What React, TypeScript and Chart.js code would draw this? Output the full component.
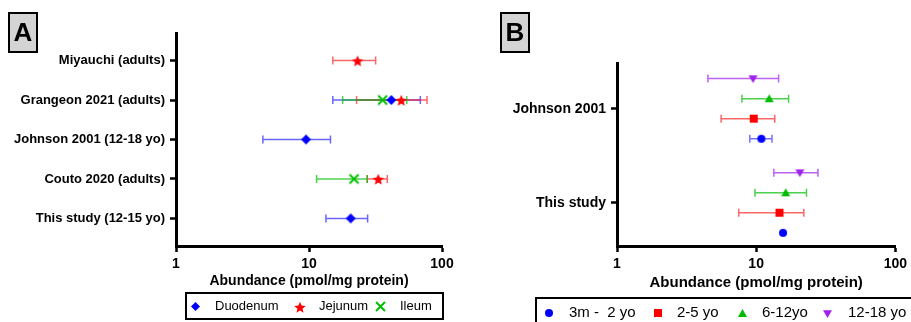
import React, { useEffect, useRef } from 'react';
import { Chart, registerables } from 'chart.js';

Chart.register(...registerables);

const FONT = '"Liberation Sans", Arial, Helvetica, sans-serif';

// ---------- Panel A data ----------
const studiesA = [
  'Miyauchi (adults)',
  'Grangeon 2021 (adults)',
  'Johnson 2001 (12-18 yo)',
  'Couto 2020 (adults)',
  'This study (12-15 yo)',
];
const tissuesA = ['Duodenum', 'Jejunum', 'Ileum'];
const duodenumMean = [null, 41.6, 9.5, null, 20.6];
const duodenumLo = [null, 15.1, 4.5, null, 13.4];
const duodenumHi = [null, 68.7, 14.5, null, 27.6];
const jejunumMean = [23.2, 49.4, null, 33.2, null];
const jejunumLo = [15.1, 22.8, null, 27.4, null];
const jejunumHi = [31.7, 77.1, null, 38.8, null];
const ileumMean = [null, 35.8, null, 21.8, null];
const ileumLo = [null, 17.9, null, 11.4, null];
const ileumHi = [null, 54.3, null, 27.4, null];

// ---------- Panel B data ----------
const studiesB = ['Johnson 2001', 'This study'];
const ageGroupsB = ['3m -  2 yo', '2-5 yo', '6-12yo', '12-18 yo'];
const dodgeB = [0.32, 0.106, -0.106, -0.32];
const infantMean = [10.9, 15.6];
const infantLo = [9.0, null];
const infantHi = [13.0, null];
const preschoolMean = [9.6, 14.7];
const preschoolLo = [5.6, 7.5];
const preschoolHi = [13.6, 22.0];
const childMean = [12.4, 16.3];
const childLo = [7.9, 9.8];
const childHi = [17.1, 23.0];
const adolescentMean = [9.5, 20.6];
const adolescentLo = [4.5, 13.4];
const adolescentHi = [14.5, 27.8];

const xTicks = [1, 10, 100];

// ---------- markers ----------
function makeMarker(shape: string, color: string, s: number): HTMLCanvasElement {
  const S = Math.ceil(s + 4);
  const c = document.createElement('canvas');
  c.width = S;
  c.height = S;
  const ctx = c.getContext('2d')!;
  const m = S / 2;
  const h = s / 2;
  ctx.fillStyle = color;
  ctx.strokeStyle = color;
  ctx.beginPath();
  if (shape === 'diamond') {
    ctx.moveTo(m, m - h);
    ctx.lineTo(m + h, m);
    ctx.lineTo(m, m + h);
    ctx.lineTo(m - h, m);
    ctx.closePath();
    ctx.fill();
  } else if (shape === 'star') {
    for (let i = 0; i < 10; i++) {
      const r = i % 2 === 0 ? h : h * 0.45;
      const a = -Math.PI / 2 + (i * Math.PI) / 5;
      ctx.lineTo(m + r * Math.cos(a), m + 0.8 + r * Math.sin(a));
    }
    ctx.closePath();
    ctx.fill();
  } else if (shape === 'cross') {
    ctx.lineWidth = 2;
    ctx.moveTo(m - h, m - h);
    ctx.lineTo(m + h, m + h);
    ctx.moveTo(m + h, m - h);
    ctx.lineTo(m - h, m + h);
    ctx.stroke();
  } else if (shape === 'circle') {
    ctx.arc(m, m, h, 0, Math.PI * 2);
    ctx.fill();
  } else if (shape === 'square') {
    ctx.rect(m - h, m - h, s, s);
    ctx.fill();
  } else if (shape === 'triUp') {
    ctx.moveTo(m, m - h);
    ctx.lineTo(m + h, m + h * 0.75);
    ctx.lineTo(m - h, m + h * 0.75);
    ctx.closePath();
    ctx.fill();
  } else if (shape === 'triDown') {
    ctx.moveTo(m, m + h);
    ctx.lineTo(m + h, m - h * 0.75);
    ctx.lineTo(m - h, m - h * 0.75);
    ctx.closePath();
    ctx.fill();
  }
  return c;
}

// ---------- plugins ----------
const errorBarPlugin = {
  id: 'errorBars',
  beforeDatasetsDraw(chart: any) {
    const ctx = chart.ctx;
    const xs = chart.scales.x;
    const ys = chart.scales.y;
    chart.data.datasets.forEach((ds: any) => {
      ds.data.forEach((p: any) => {
        if (p.lo == null || p.hi == null) return;
        const y = ys.getPixelForValue(p.y);
        const x1 = xs.getPixelForValue(p.lo);
        const x2 = xs.getPixelForValue(p.hi);
        ctx.save();
        ctx.strokeStyle = ds.errColor;
        ctx.lineWidth = 1.5;
        ctx.beginPath();
        ctx.moveTo(x1, y);
        ctx.lineTo(x2, y);
        ctx.moveTo(x1, y - 4);
        ctx.lineTo(x1, y + 4);
        ctx.moveTo(x2, y - 4);
        ctx.lineTo(x2, y + 4);
        ctx.stroke();
        ctx.restore();
      });
    });
  },
};

const decorPlugin = {
  id: 'decor',
  afterDraw(chart: any, _args: any, opts: any) {
    const ctx = chart.ctx;
    ctx.save();
    const [bx, by, bw, bh] = opts.letterBox;
    ctx.fillStyle = '#d4d4d4';
    ctx.fillRect(bx, by, bw, bh);
    ctx.strokeStyle = '#000';
    ctx.lineWidth = 2;
    ctx.strokeRect(bx, by, bw, bh);
    ctx.fillStyle = '#000';
    ctx.font = `bold 26px ${FONT}`;
    ctx.textAlign = 'center';
    ctx.textBaseline = 'middle';
    ctx.fillText(opts.letter, bx + bw / 2, by + bh / 2 + 1);

    const L = opts.legend;
    const [lx, ly, lw, lh] = L.box;
    ctx.lineWidth = 2;
    ctx.strokeRect(lx, ly, lw, lh);
    ctx.font = `${L.fontSize}px ${FONT}`;
    ctx.textAlign = 'left';
    ctx.textBaseline = 'middle';
    chart.data.datasets.forEach((ds: any, i: number) => {
      const [mx, tx] = L.items[i];
      const img = ds.legendMarker as HTMLCanvasElement;
      ctx.drawImage(img, Math.round(mx - img.width / 2), Math.round(L.y - img.height / 2));
      ctx.fillStyle = '#000';
      ctx.fillText(ds.label, tx, L.y);
    });
    ctx.restore();
  },
};

function build(mean: (number | null)[], lo: (number | null)[], hi: (number | null)[], offset: number) {
  const out: any[] = [];
  mean.forEach((v, i) => {
    if (v == null) return;
    out.push({ x: v, y: i + offset, lo: lo[i], hi: hi[i] });
  });
  return out;
}

function axisOptions(opts: {
  yLabels: string[];
  yMin: number;
  yMax: number;
  yWidth: number;
  yFont: number;
  xHeight: number;
  titleFont: number;
}) {
  return {
    x: {
      type: 'logarithmic',
      min: 1,
      max: 100,
      afterBuildTicks: (s: any) => {
        s.ticks = xTicks.map((v) => ({ value: v, major: false }));
      },
      afterFit: (s: any) => {
        s.height = opts.xHeight;
      },
      border: { display: true, color: '#000', width: 3 },
      grid: { drawOnChartArea: false, drawTicks: true, tickLength: 6, tickWidth: 2.5, tickColor: '#000' },
      ticks: {
        color: '#000',
        font: { family: FONT, size: 14, weight: 'bold' },
        padding: 4,
        maxRotation: 0,
        autoSkip: false,
        callback: (v: any) => String(v),
      },
      title: {
        display: true,
        text: 'Abundance (pmol/mg protein)',
        color: '#000',
        font: { family: FONT, size: opts.titleFont, weight: 'bold' },
        padding: 0,
      },
    },
    y: {
      type: 'linear',
      reverse: true,
      min: opts.yMin,
      max: opts.yMax,
      afterBuildTicks: (s: any) => {
        s.ticks = opts.yLabels.map((_, i) => ({ value: i }));
      },
      afterFit: (s: any) => {
        s.width = opts.yWidth;
      },
      border: { display: true, color: '#000', width: 3 },
      grid: { drawOnChartArea: false, drawTicks: true, tickLength: 6, tickWidth: 2.5, tickColor: '#000' },
      ticks: {
        color: '#000',
        font: { family: FONT, size: opts.yFont, weight: 'bold' },
        padding: 5,
        autoSkip: false,
        callback: (v: any) => opts.yLabels[Math.round(v)],
      },
    },
  };
}

function useChart(ref: React.RefObject<HTMLCanvasElement>, makeConfig: () => any) {
  useEffect(() => {
    if (!ref.current) return;
    const chart = new Chart(ref.current, makeConfig());
    return () => chart.destroy();
  }, []);
}

export default function App() {
  const refA = useRef<HTMLCanvasElement>(null);
  const refB = useRef<HTMLCanvasElement>(null);

  useChart(refA, () => {
    const mk = [
      { shape: 'diamond', color: '#0000ff', err: 'rgba(0,0,255,0.6)', s: 10, ls: 9 },
      { shape: 'star', color: '#ff0000', err: 'rgba(255,0,0,0.6)', s: 12, ls: 12 },
      { shape: 'cross', color: '#00c000', err: 'rgba(0,190,0,0.7)', s: 9, ls: 9 },
    ];
    const series = [
      build(duodenumMean, duodenumLo, duodenumHi, 0),
      build(jejunumMean, jejunumLo, jejunumHi, 0),
      build(ileumMean, ileumLo, ileumHi, 0),
    ];
    const datasets = tissuesA.map((label, i) => ({
      label,
      data: series[i],
      pointStyle: makeMarker(mk[i].shape, mk[i].color, mk[i].s),
      legendMarker: makeMarker(mk[i].shape, mk[i].color, mk[i].ls),
      errColor: mk[i].err,
      showLine: false,
      order: i === 2 ? 3 : i === 0 ? 2 : 1,
    }));
    return {
      type: 'scatter',
      data: { datasets },
      options: {
        animation: false,
        responsive: false,
        events: [],
        layout: { padding: { top: 33, right: 18, bottom: 32, left: 0 } },
        plugins: {
          legend: { display: false },
          tooltip: { enabled: false },
          decor: {
            letter: 'A',
            letterBox: [9, 13, 28, 39],
            legend: {
              box: [186, 293, 257, 26],
              fontSize: 13,
              y: 306.5,
              items: [
                [195, 215],
                [300, 319],
                [380, 400],
              ],
            },
          },
        },
        scales: axisOptions({
          yLabels: studiesA,
          yMin: -0.7,
          yMax: 4.7,
          yWidth: 176,
          yFont: 13,
          xHeight: 44,
          titleFont: 14,
        }),
      },
      plugins: [errorBarPlugin, decorPlugin],
    };
  });

  useChart(refB, () => {
    const mk = [
      { shape: 'circle', color: '#0000ff', err: 'rgba(0,0,255,0.55)', s: 8, ls: 8 },
      { shape: 'square', color: '#ff0000', err: 'rgba(255,0,0,0.6)', s: 8, ls: 8 },
      { shape: 'triUp', color: '#00bb00', err: 'rgba(0,190,0,0.7)', s: 9, ls: 9 },
      { shape: 'triDown', color: '#a020f0', err: 'rgba(160,32,240,0.7)', s: 9, ls: 9 },
    ];
    const series = [
      build(infantMean, infantLo, infantHi, dodgeB[0]),
      build(preschoolMean, preschoolLo, preschoolHi, dodgeB[1]),
      build(childMean, childLo, childHi, dodgeB[2]),
      build(adolescentMean, adolescentLo, adolescentHi, dodgeB[3]),
    ];
    const datasets = ageGroupsB.map((label, i) => ({
      label,
      data: series[i],
      pointStyle: makeMarker(mk[i].shape, mk[i].color, mk[i].s),
      legendMarker: makeMarker(mk[i].shape, mk[i].color, mk[i].ls),
      errColor: mk[i].err,
      showLine: false,
    }));
    return {
      type: 'scatter',
      data: { datasets },
      options: {
        animation: false,
        responsive: false,
        events: [],
        layout: { padding: { top: 63, right: 11, bottom: 30, left: 0 } },
        plugins: {
          legend: { display: false },
          tooltip: { enabled: false },
          decor: {
            letter: 'B',
            letterBox: [41, 13, 28, 39],
            legend: {
              box: [76, 298, 400, 40],
              fontSize: 15,
              y: 313,
              items: [
                [89, 109],
                [198, 217],
                [282, 302],
                [367, 388],
              ],
            },
          },
        },
        scales: axisOptions({
          yLabels: studiesB,
          yMin: -0.486,
          yMax: 1.46,
          yWidth: 157,
          yFont: 14,
          xHeight: 46,
          titleFont: 15,
        }),
      },
      plugins: [errorBarPlugin, decorPlugin],
    };
  });

  return (
    <div
      style={{
        position: 'fixed',
        left: 0,
        top: 0,
        width: 911,
        height: 322,
        background: '#fff',
        overflow: 'hidden',
      }}
    >
      <canvas
        ref={refA}
        width={460}
        height={322}
        style={{ position: 'absolute', left: 0, top: 0, width: 460, height: 322 }}
      />
      <canvas
        ref={refB}
        width={451}
        height={322}
        style={{ position: 'absolute', left: 460, top: 0, width: 451, height: 322 }}
      />
    </div>
  );
}
